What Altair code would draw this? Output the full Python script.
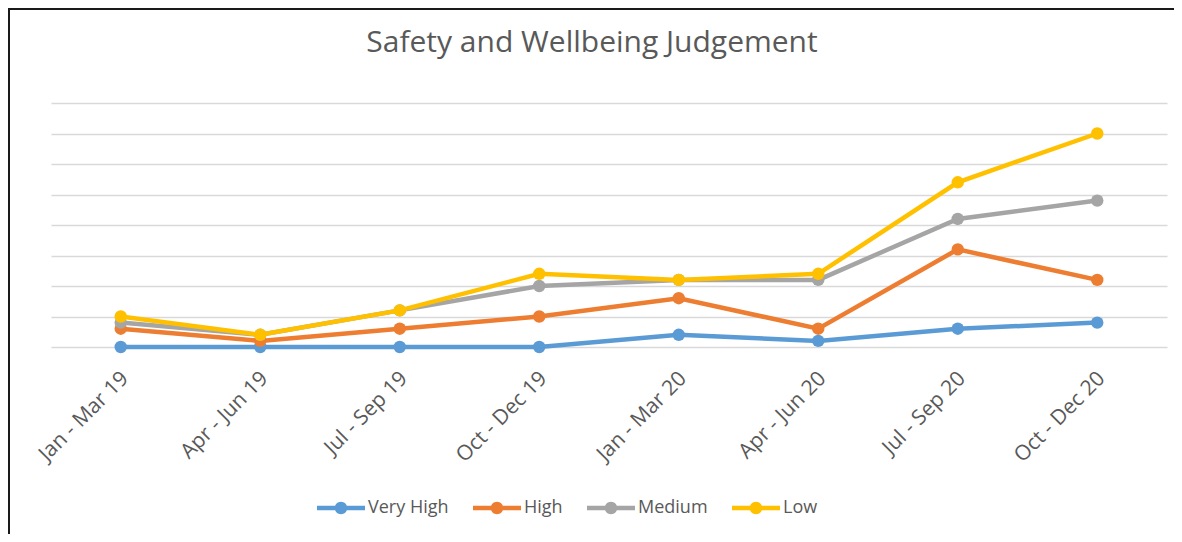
import altair as alt
import pandas as pd

quarters = ["Jan - Mar 19", "Apr - Jun 19", "Jul - Sep 19", "Oct - Dec 19",
            "Jan - Mar 20", "Apr - Jun 20", "Jul - Sep 20", "Oct - Dec 20"]
series_names = ["Very High", "High", "Medium", "Low"]
very_high = [0, 0, 0, 0, 2, 1, 3, 4]
high = [3, 1, 3, 5, 8, 3, 16, 11]
medium = [4, 2, 6, 10, 11, 11, 21, 24]
low = [5, 2, 6, 12, 11, 12, 27, 35]
colors = ["#5B9BD5", "#ED7D31", "#A5A5A5", "#FFC000"]
grid_values = [0, 5, 10, 15, 20, 25, 30, 35, 40]

rows = []
for name, vals in zip(series_names, [very_high, high, medium, low]):
    for q, v in zip(quarters, vals):
        rows.append({"Quarter": q, "Series": name, "Value": v})
df = pd.DataFrame(rows)

FONT = "Open Sans"
TXT = "#595959"

legend_path = ("M-1,-0.09L1,-0.09L1,0.09L-1,0.09Z"
               "M-0.26,0A0.26,0.26 0 1,1 0.26,0A0.26,0.26 0 1,1 -0.26,0Z")

x_enc = alt.X("Quarter:N", sort=quarters,
              scale=alt.Scale(type="point", padding=0.5),
              axis=alt.Axis(title=None, labelAngle=-45, labelAlign="right",
                            labelBaseline="middle", labelPadding=28, labelOffset=4,
                            ticks=False, domain=False, grid=False,
                            labelFontSize=21, labelColor=TXT, labelFont=FONT))
y_enc = alt.Y("Value:Q", scale=alt.Scale(domain=[0, 40], nice=False),
              axis=alt.Axis(title=None, values=grid_values, labels=False,
                            ticks=False, domain=False, grid=True,
                            gridColor="#D9D9D9", gridWidth=1.5))
legend = alt.Legend(title=None, orient="none", direction="horizontal",
                    legendX=266, legendY=381,
                    symbolType=legend_path, symbolSize=2304,
                    symbolStrokeWidth=0, symbolOpacity=1,
                    labelFont=FONT, labelFontSize=18, labelColor=TXT,
                    labelOffset=3, columnPadding=24)
c_enc = alt.Color("Series:N", scale=alt.Scale(domain=series_names, range=colors),
                  legend=legend)

base = alt.Chart(df)
layers = []
for name in series_names:
    sub = base.transform_filter(alt.datum.Series == name)
    layers.append(sub.mark_line(strokeWidth=4.5).encode(x=x_enc, y=y_enc, color=c_enc))
    layers.append(sub.mark_point(filled=True, size=155, opacity=1).encode(x=x_enc, y=y_enc, color=c_enc))

frame_df = pd.DataFrame({"k": [0]})
left_border = alt.Chart(frame_df).mark_rule(color="#1a1a1a", strokeWidth=2).encode(
    x=alt.value(-42), y=alt.value(-95), y2=alt.value(431))
top_border = alt.Chart(frame_df).mark_rule(color="#1a1a1a", strokeWidth=2).encode(
    x=alt.value(-43), x2=alt.value(1123), y=alt.value(-94))

chart = alt.layer(*layers, left_border, top_border).properties(
    width=1116, height=244,
    background="white",
    padding={"left": 43, "top": 95, "right": 7, "bottom": 187},
    autosize=alt.AutoSizeParams(type="none"),
    title=alt.TitleParams("Safety and Wellbeing Judgement", font=FONT, fontSize=30,
                          fontWeight="normal", color=TXT, anchor="middle",
                          frame="group", dx=-17, offset=-75, baseline="alphabetic"),
).configure_view(stroke=None)

chart.save("out.html", embed_options={"renderer": "svg", "actions": False})
